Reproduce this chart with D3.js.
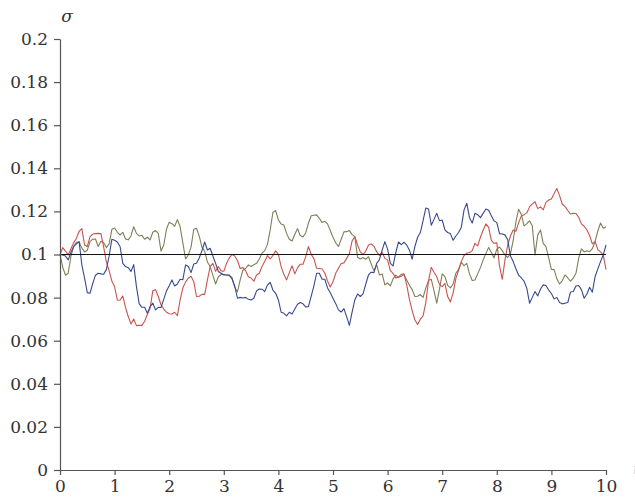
<!DOCTYPE html>
<html>
<head>
<meta charset="utf-8">
<script src="https://cdn.jsdelivr.net/npm/d3@7"></script>
<style>
  html, body { margin: 0; padding: 0; background: #fff; }
  svg { display: block; }
</style>
</head>
<body>
<script>
// Sampling step of the three volatility paths (time units)
const dt = 0.05;

// Volatility paths sigma(t), sampled every dt from t = 0 to t = 10
const bluePath = [
  0.1000,0.0998,0.0993,0.0975,0.1009,0.1037,0.1049,0.1060,0.0952,0.0890,
  0.0823,0.0820,0.0866,0.0904,0.0913,0.0910,0.0908,0.0931,0.0993,0.1071,
  0.1066,0.1058,0.1037,0.0959,0.0944,0.0939,0.0921,0.0953,0.0851,0.0772,
  0.0755,0.0755,0.0727,0.0758,0.0774,0.0743,0.0755,0.0754,0.0792,0.0831,
  0.0855,0.0882,0.0854,0.0863,0.0885,0.0883,0.0952,0.0944,0.0916,0.0956,
  0.0959,0.0984,0.1018,0.1058,0.1021,0.1029,0.0993,0.0959,0.0921,0.0913,
  0.0905,0.0905,0.0905,0.0887,0.0854,0.0797,0.0801,0.0798,0.0801,0.0792,
  0.0789,0.0797,0.0831,0.0840,0.0839,0.0828,0.0859,0.0870,0.0835,0.0820,
  0.0789,0.0732,0.0727,0.0715,0.0732,0.0724,0.0747,0.0769,0.0777,0.0771,
  0.0757,0.0758,0.0806,0.0854,0.0913,0.0913,0.0885,0.0885,0.0845,0.0822,
  0.0797,0.0772,0.0743,0.0733,0.0749,0.0712,0.0671,0.0733,0.0789,0.0817,
  0.0805,0.0817,0.0863,0.0905,0.0918,0.0916,0.0959,0.0976,0.1020,0.1060,
  0.1025,0.0959,0.0947,0.1009,0.1058,0.1046,0.1057,0.1044,0.1020,0.0978,
  0.1037,0.1080,0.1102,0.1157,0.1216,0.1211,0.1136,0.1163,0.1191,0.1157,
  0.1160,0.1114,0.1102,0.1097,0.1066,0.1086,0.1102,0.1126,0.1207,0.1238,
  0.1171,0.1146,0.1191,0.1185,0.1171,0.1191,0.1211,0.1205,0.1180,0.1156,
  0.1148,0.1097,0.1095,0.1091,0.1068,0.0993,0.0967,0.0934,0.0904,0.0891,
  0.0876,0.0843,0.0774,0.0801,0.0828,0.0808,0.0839,0.0859,0.0856,0.0835,
  0.0819,0.0794,0.0801,0.0777,0.0771,0.0774,0.0777,0.0826,0.0828,0.0854,
  0.0856,0.0837,0.0797,0.0817,0.0848,0.0825,0.0897,0.0933,0.0967,0.0998,
  0.1044
];

const redPath = [
  0.1000,0.1032,0.1016,0.0998,0.1027,0.1055,0.1074,0.1108,0.1120,0.1044,
  0.1037,0.1083,0.1095,0.1097,0.1098,0.1097,0.1034,0.0965,0.0925,0.0876,
  0.0851,0.0788,0.0789,0.0808,0.0754,0.0712,0.0678,0.0701,0.0670,0.0671,
  0.0671,0.0690,0.0723,0.0750,0.0832,0.0837,0.0805,0.0767,0.0747,0.0732,
  0.0725,0.0724,0.0732,0.0716,0.0789,0.0845,0.0873,0.0890,0.0899,0.0874,
  0.0805,0.0806,0.0815,0.0815,0.0882,0.0944,0.0959,0.0922,0.0944,0.0924,
  0.0922,0.0959,0.0984,0.1000,0.0993,0.0972,0.0935,0.0939,0.0924,0.0897,
  0.0891,0.0876,0.0905,0.0913,0.0944,0.0969,0.0995,0.0979,0.0996,0.1017,
  0.1000,0.0944,0.0908,0.0882,0.0916,0.0948,0.0910,0.0938,0.0955,0.0955,
  0.0989,0.1037,0.1001,0.0981,0.0936,0.0935,0.0933,0.0914,0.0877,0.0849,
  0.0874,0.0913,0.0936,0.0958,0.0961,0.0982,0.1004,0.1063,0.1083,0.1044,
  0.1012,0.1000,0.1016,0.1044,0.1049,0.1038,0.1013,0.0996,0.1010,0.0982,
  0.0975,0.0925,0.0912,0.0891,0.0896,0.0908,0.0910,0.0859,0.0792,0.0740,
  0.0696,0.0675,0.0700,0.0715,0.0777,0.0879,0.0941,0.0918,0.0897,0.0860,
  0.0851,0.0866,0.0805,0.0780,0.0822,0.0888,0.0927,0.0967,0.0995,0.1006,
  0.1009,0.1018,0.1052,0.1040,0.1080,0.1114,0.1142,0.1126,0.1066,0.1052,
  0.1054,0.0947,0.0885,0.0975,0.1044,0.1086,0.1114,0.1108,0.1148,0.1179,
  0.1185,0.1193,0.1221,0.1235,0.1245,0.1213,0.1221,0.1207,0.1242,0.1253,
  0.1258,0.1283,0.1306,0.1273,0.1233,0.1222,0.1204,0.1188,0.1191,0.1190,
  0.1173,0.1142,0.1131,0.1114,0.1088,0.1049,0.1060,0.1023,0.1012,0.0998,
  0.0930
];

const olivePath = [
  0.1000,0.0941,0.0904,0.0913,0.0992,0.1038,0.1057,0.1058,0.1030,0.1012,
  0.1020,0.1060,0.1071,0.1072,0.1037,0.1061,0.1055,0.1032,0.1049,0.1117,
  0.1123,0.1103,0.1091,0.1103,0.1072,0.1068,0.1086,0.1129,0.1098,0.1086,
  0.1089,0.1071,0.1080,0.1068,0.1103,0.1111,0.1098,0.1016,0.1044,0.1117,
  0.1150,0.1143,0.1131,0.1162,0.1129,0.1054,0.0979,0.0998,0.1034,0.1117,
  0.1122,0.1085,0.1034,0.1015,0.0965,0.0944,0.0904,0.0863,0.0897,0.0907,
  0.0908,0.0905,0.0901,0.0894,0.0848,0.0826,0.0882,0.0927,0.0935,0.0952,
  0.0944,0.0953,0.0959,0.0979,0.1006,0.1018,0.1047,0.1114,0.1196,0.1204,
  0.1160,0.1142,0.1137,0.1098,0.1071,0.1063,0.1094,0.1120,0.1088,0.1081,
  0.1100,0.1145,0.1180,0.1182,0.1184,0.1168,0.1148,0.1154,0.1142,0.1111,
  0.1080,0.1054,0.1037,0.1071,0.1105,0.1106,0.1111,0.1092,0.1083,0.0987,
  0.0979,0.0986,0.0978,0.0990,0.0956,0.0924,0.0952,0.0905,0.0910,0.0859,
  0.0868,0.0854,0.0887,0.0904,0.0893,0.0899,0.0907,0.0882,0.0857,0.0837,
  0.0805,0.0806,0.0814,0.0801,0.0845,0.0879,0.0885,0.0832,0.0774,0.0839,
  0.0910,0.0897,0.0857,0.0845,0.0863,0.0913,0.0931,0.0964,0.0948,0.0959,
  0.0910,0.0879,0.0882,0.0910,0.0939,0.0975,0.1004,0.1033,0.1009,0.0984,
  0.1025,0.1035,0.1018,0.0998,0.0986,0.1004,0.1064,0.1151,0.1210,0.1185,
  0.1133,0.1143,0.1156,0.1133,0.0998,0.1091,0.1114,0.1052,0.1037,0.0984,
  0.0931,0.0930,0.0887,0.0863,0.0879,0.0905,0.0891,0.0876,0.0890,0.0913,
  0.0982,0.1026,0.1012,0.1017,0.1013,0.1027,0.1060,0.1109,0.1146,0.1122,
  0.1129
];

// Long-run level drawn as a horizontal reference line
const meanLevel = 0.1;

// Axis ticks and their labels
const xTickValues = [0, 1, 2, 3, 4, 5, 6, 7, 8, 9, 10];
const yTickValues = [0, 0.02, 0.04, 0.06, 0.08, 0.1, 0.12, 0.14, 0.16, 0.18, 0.2];
const yTickLabels = ["0", "0.02", "0.04", "0.06", "0.08", "0.1", "0.12", "0.14", "0.16", "0.18", "0.2"];

const width = 635, height = 497;
const margin = { left: 60, right: 29, top: 39, bottom: 27 };
const serif = "DejaVu Serif";

const svg = d3.select("body").append("svg")
  .attr("width", width)
  .attr("height", height);

const x = d3.scaleLinear().domain([0, 10]).range([margin.left, width - margin.right]);
const y = d3.scaleLinear().domain([0, 0.2]).range([height - margin.bottom, margin.top]);

const times = bluePath.map((_, i) => i * dt);

const series = [
  { name: "olive", values: olivePath, color: "#7f7e5a" },
  { name: "red",   values: redPath,   color: "#c9544e" },
  { name: "blue",  values: bluePath,  color: "#38498c" }
];

const line = d3.line()
  .x((d, i) => x(times[i]))
  .y(d => y(d));

svg.append("g")
  .selectAll("path")
  .data(series)
  .join("path")
  .attr("fill", "none")
  .attr("stroke", d => d.color)
  .attr("stroke-width", 1.1)
  .attr("stroke-linejoin", "round")
  .attr("d", d => line(d.values));

// Reference level sigma = 0.1
svg.append("line")
  .attr("x1", x(0)).attr("x2", x(10))
  .attr("y1", y(meanLevel)).attr("y2", y(meanLevel))
  .attr("stroke", "#111")
  .attr("stroke-width", 1.1);

// Axes
const axisColor = "#555";

const yAxis = svg.append("g")
  .attr("transform", `translate(${margin.left},0)`)
  .call(d3.axisLeft(y)
    .tickValues(yTickValues)
    .tickFormat((d, i) => yTickLabels[i])
    .tickSize(6)
    .tickSizeOuter(0)
    .tickPadding(6));

const xAxis = svg.append("g")
  .attr("transform", `translate(0,${height - margin.bottom})`)
  .call(d3.axisBottom(x)
    .tickValues(xTickValues)
    .tickFormat(d3.format("d"))
    .tickSize(5)
    .tickSizeOuter(0)
    .tickPadding(5));

[yAxis, xAxis].forEach(g => {
  g.attr("font-family", serif).attr("font-size", 17);
  g.select(".domain").attr("stroke", axisColor).attr("stroke-width", 1.2);
  g.selectAll(".tick line").attr("stroke", axisColor).attr("stroke-width", 1.2);
  g.selectAll(".tick text").attr("fill", "#333");
});

// Axis titles
svg.append("text")
  .attr("x", margin.left + 7)
  .attr("y", 22)
  .attr("text-anchor", "middle")
  .attr("font-family", serif)
  .attr("font-style", "italic")
  .attr("font-size", 17)
  .attr("fill", "#333")
  .text("σ");

svg.append("text")
  .attr("x", width - 2)
  .attr("y", height - margin.bottom + 4)
  .attr("font-family", serif)
  .attr("font-style", "italic")
  .attr("font-size", 15)
  .attr("fill", "#d8d8d8")
  .text("t");
</script>
</body>
</html>
